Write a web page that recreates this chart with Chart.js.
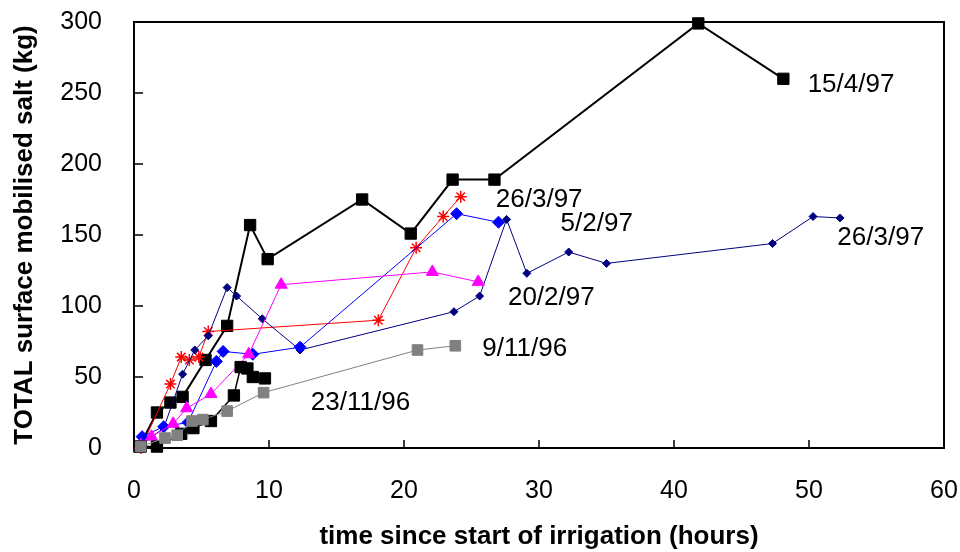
<!DOCTYPE html>
<html>
<head>
<meta charset="utf-8">
<script src="https://cdn.jsdelivr.net/npm/chart.js@4/dist/chart.umd.min.js"></script>
<style>
  html, body { margin: 0; padding: 0; background: #fff; }
  #wrap { width: 960px; height: 552px; }
</style>
</head>
<body>
<div id="wrap"><canvas id="saltChart" width="960" height="552"></canvas></div>
<script>
// hours since start of irrigation / total mobilised salt (kg)
const hours_15_4_97 = [0.4, 1.7, 2.7, 3.6, 5.3, 6.9, 8.6, 9.9, 16.9, 20.5, 23.6, 26.7, 41.8, 48.1];
const salt_15_4_97  = [1, 25, 32, 36, 62, 86, 157, 133, 175, 151, 189, 189, 299, 260];

const hours_23_11_96 = [0.5, 1.7, 3.5, 4.4, 5.7, 7.4, 7.9, 8.4, 8.8, 9.7];
const salt_23_11_96  = [1, 1, 10, 14, 19, 37, 57, 56, 50, 49];

const hours_9_11_96 = [0.5, 2.3, 3.2, 4.3, 5.1, 6.9, 9.6, 21.0, 23.8];
const salt_9_11_96  = [1, 7, 9, 19, 20, 26, 39, 69, 72];

const hours_20_2_97 = [0.5, 1.3, 2.9, 3.9, 5.7, 8.5, 10.9, 22.1, 25.5];
const salt_20_2_97  = [2, 8, 17, 28, 38, 66, 115, 124, 117];

const hours_5_2_97 = [0.6, 2.2, 4.0, 6.1, 6.6, 8.8, 12.3, 23.9, 27.0];
const salt_5_2_97  = [8, 15, 18, 61, 68, 66, 71, 165, 159];

const hours_26_3_97a = [0.5, 2.2, 3.6, 4.5, 5.5, 6.9, 7.6, 9.5, 12.3, 23.7, 25.6, 27.6, 29.1, 32.2, 35.0, 47.3, 50.3, 52.3];
const salt_26_3_97a  = [2, 14, 52, 69, 79, 113, 107, 91, 69, 96, 107, 161, 123, 138, 130, 144, 163, 162];

const hours_26_3_97b = [0.5, 2.7, 3.5, 4.1, 4.8, 5.5, 18.1, 20.9, 22.9, 24.2];
const salt_26_3_97b  = [0, 45, 64, 62, 64, 82, 90, 141, 163, 177];

// date labels written next to the curves (x in hours, y in kg)
const labelText = ['15/4/97', '26/3/97', '5/2/97', '26/3/97', '20/2/97', '9/11/96', '23/11/96'];
const labelX    = [49.9, 26.8, 31.6, 52.1, 27.7, 25.8, 13.1];
const labelY    = [256, 175, 158, 148, 106, 70, 32];

const xTicks = [0, 10, 20, 30, 40, 50, 60];
const yTicks = [0, 50, 100, 150, 200, 250, 300];

function toPoints(xs, ys) {
    return xs.map((x, i) => ({ x: x, y: ys[i] }));
}

const FONT = '"Liberation Sans", Arial, sans-serif';

// frame round the plot plus short inward tick marks
const framePlugin = {
    id: 'frame',
    beforeDatasetsDraw(chart) {
        const { ctx, chartArea: a, scales } = chart;
        ctx.save();
        ctx.strokeStyle = '#000';
        ctx.lineWidth = 2;
        ctx.strokeRect(a.left, a.top, a.right - a.left, a.bottom - a.top);
        ctx.lineWidth = 1.5;
        ctx.beginPath();
        xTicks.forEach(v => {
            const px = scales.x.getPixelForValue(v);
            ctx.moveTo(px, a.bottom);
            ctx.lineTo(px, a.bottom - 8);
        });
        yTicks.forEach(v => {
            const py = scales.y.getPixelForValue(v);
            ctx.moveTo(a.left, py);
            ctx.lineTo(a.left + 9, py);
        });
        ctx.stroke();
        ctx.restore();
    }
};

const labelPlugin = {
    id: 'dateLabels',
    afterDatasetsDraw(chart) {
        const { ctx, scales } = chart;
        ctx.save();
        ctx.font = '26px ' + FONT;
        ctx.fillStyle = '#000';
        ctx.textAlign = 'left';
        ctx.textBaseline = 'middle';
        labelText.forEach((t, i) => {
            ctx.fillText(t, scales.x.getPixelForValue(labelX[i]), scales.y.getPixelForValue(labelY[i]));
        });
        ctx.restore();
    }
};

const ctx = document.getElementById('saltChart').getContext('2d');

const saltChart = new Chart(ctx, {
    type: 'scatter',
    data: {
        datasets: [
            {
                label: '9/11/96',
                data: toPoints(hours_9_11_96, salt_9_11_96),
                showLine: true,
                borderColor: '#808080',
                backgroundColor: '#808080',
                borderWidth: 1,
                pointStyle: 'rect',
                pointRadius: 7.5,
                pointBorderWidth: 1
            },
            {
                label: '23/11/96',
                data: toPoints(hours_23_11_96, salt_23_11_96),
                showLine: true,
                borderColor: '#000',
                backgroundColor: '#000',
                borderWidth: 1.5,
                pointStyle: 'rect',
                pointRadius: 8,
                pointBorderWidth: 1
            },
            {
                label: '20/2/97',
                data: toPoints(hours_20_2_97, salt_20_2_97),
                showLine: true,
                borderColor: '#ff00ff',
                backgroundColor: '#ff00ff',
                borderWidth: 1,
                pointStyle: 'triangle',
                pointRadius: 7,
                pointBorderWidth: 1
            },
            {
                label: '5/2/97',
                data: toPoints(hours_5_2_97, salt_5_2_97),
                showLine: true,
                borderColor: '#0000ff',
                backgroundColor: '#0000ff',
                borderWidth: 1,
                pointStyle: 'rectRot',
                pointRadius: 6,
                pointBorderWidth: 1
            },
            {
                label: '26/3/97',
                data: toPoints(hours_26_3_97a, salt_26_3_97a),
                showLine: true,
                borderColor: '#000080',
                backgroundColor: '#000080',
                borderWidth: 1,
                pointStyle: 'rectRot',
                pointRadius: 4,
                pointBorderWidth: 1
            },
            {
                label: '26/3/97 ',
                data: toPoints(hours_26_3_97b, salt_26_3_97b),
                showLine: true,
                borderColor: '#ff0000',
                backgroundColor: '#ff0000',
                borderWidth: 1,
                pointStyle: 'star',
                pointRadius: 6,
                pointBorderWidth: 1.5
            },
            {
                label: '15/4/97',
                data: toPoints(hours_15_4_97, salt_15_4_97),
                showLine: true,
                borderColor: '#000',
                backgroundColor: '#000',
                borderWidth: 2,
                pointStyle: 'rect',
                pointRadius: 8,
                pointBorderWidth: 1
            }
        ]
    },
    options: {
        responsive: false,
        animation: false,
        clip: false,
        layout: { padding: { top: 22, right: 16, left: 0, bottom: 0 } },
        plugins: {
            legend: { display: false },
            tooltip: { enabled: false }
        },
        scales: {
            x: {
                type: 'linear',
                min: 0,
                max: 60,
                afterFit(scale) {
                    scale.height = 104;
                    scale.paddingLeft = 0;
                    scale.paddingRight = 0;
                },
                afterBuildTicks(scale) { scale.ticks = xTicks.map(v => ({ value: v })); },
                grid: { display: false },
                border: { display: false },
                ticks: { color: '#000', padding: 20, font: { family: FONT, size: 25 } },
                title: {
                    display: true,
                    text: 'time since start of irrigation (hours)',
                    color: '#000',
                    padding: { top: 0, bottom: 0 },
                    font: { family: FONT, size: 26, weight: 'bold' }
                }
            },
            y: {
                type: 'linear',
                min: 0,
                max: 300,
                afterFit(scale) {
                    scale.width = 134;
                    scale.paddingTop = 0;
                    scale.paddingBottom = 0;
                },
                afterBuildTicks(scale) { scale.ticks = yTicks.map(v => ({ value: v })); },
                grid: { display: false },
                border: { display: false },
                ticks: { color: '#000', padding: 24, font: { family: FONT, size: 25 } },
                title: {
                    display: true,
                    text: 'TOTAL surface mobilised salt (kg)',
                    color: '#000',
                    padding: { top: 9, bottom: 0 },
                    font: { family: FONT, size: 26, weight: 'bold' }
                }
            }
        }
    },
    plugins: [framePlugin, labelPlugin]
});
</script>
</body>
</html>
